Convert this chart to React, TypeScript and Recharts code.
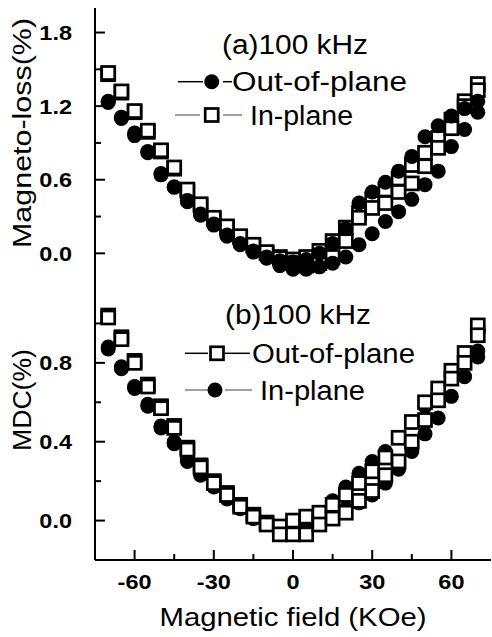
import React from "react";
import { ScatterChart, Scatter, XAxis, YAxis, Legend } from "recharts";

const FONT = "'Liberation Sans', Arial, Helvetica, sans-serif";

// field sweep, KOe
const field = [-70, -65, -60, -55, -50, -45, -40, -35, -30, -25, -20, -15, -10, -5, 0, 5, 10, 15, 20, 25, 30, 35, 40, 45, 50, 55, 60, 65, 70];

// (a) magneto-loss, %
const lossOutA = [1.24, 1.11, 0.98, 0.83, 0.65, 0.54, 0.43, 0.32, 0.24, 0.15, 0.08, 0.02, -0.04, -0.1, -0.13, -0.13, -0.11, -0.08, -0.03, 0.07, 0.16, 0.26, 0.34, 0.44, 0.56, 0.67, 0.87, 1.01, 1.15];
const lossOutB = [1.23, 1.1, 0.96, 0.82, 0.64, 0.54, 0.42, 0.31, 0.23, 0.14, 0.07, 0.01, -0.03, -0.06, -0.07, -0.05, 0.0, 0.08, 0.2, 0.41, 0.5, 0.58, 0.67, 0.79, 0.95, 1.04, 1.12, 1.18, 1.24];
const lossInA = [1.47, 1.32, 1.16, 1.0, 0.84, 0.7, 0.52, 0.4, 0.29, 0.22, 0.14, 0.07, 0.01, -0.04, -0.08, -0.1, -0.08, -0.03, 0.1, 0.29, 0.37, 0.41, 0.5, 0.57, 0.71, 0.86, 1.02, 1.2, 1.33];
const lossInB = [1.46, 1.31, 1.15, 0.99, 0.83, 0.69, 0.51, 0.39, 0.28, 0.21, 0.13, 0.06, 0.0, -0.03, -0.05, -0.03, 0.02, 0.1, 0.21, 0.33, 0.44, 0.52, 0.61, 0.72, 0.82, 0.94, 1.09, 1.24, 1.38];

// (b) MDC, %
const mdcOutA = [1.04, 0.93, 0.81, 0.69, 0.58, 0.48, 0.37, 0.28, 0.2, 0.14, 0.08, 0.03, -0.01, -0.03, 0.0, 0.02, 0.04, 0.08, 0.13, 0.19, 0.25, 0.32, 0.42, 0.5, 0.6, 0.67, 0.76, 0.85, 0.99];
const mdcOutB = [1.03, 0.92, 0.8, 0.68, 0.57, 0.47, 0.36, 0.27, 0.19, 0.13, 0.07, 0.02, -0.02, -0.07, -0.07, -0.07, -0.02, 0.01, 0.04, 0.1, 0.15, 0.23, 0.3, 0.4, 0.51, 0.61, 0.72, 0.8, 0.94];
const mdcInA = [0.88, 0.78, 0.68, 0.59, 0.48, 0.4, 0.31, 0.24, 0.18, 0.12, 0.07, 0.02, -0.02, -0.04, -0.05, -0.04, -0.02, 0.01, 0.06, 0.09, 0.13, 0.19, 0.26, 0.35, 0.44, 0.52, 0.63, 0.73, 0.83];
const mdcInB = [0.87, 0.77, 0.67, 0.58, 0.47, 0.39, 0.3, 0.23, 0.17, 0.11, 0.06, 0.01, -0.02, -0.03, -0.02, 0.0, 0.04, 0.1, 0.17, 0.24, 0.3, 0.35, 0.42, 0.5, 0.58, 0.66, 0.74, 0.8, 0.86];

const xTicks = [-60, -45, -30, -15, 0, 15, 30, 45, 60];
const xMajor = [-60, -30, 0, 30, 60];
const lossTicks = [0, 0.3, 0.6, 0.9, 1.2, 1.5, 1.8];
const lossMajor = [0, 0.6, 1.2, 1.8];
const mdcTicks = [0, 0.2, 0.4, 0.6, 0.8, 1.0];
const mdcMajor = [0, 0.4, 0.8];

const pts = (ys: number[]) => field.map((x, i) => ({ x, y: ys[i] }));

const Dot = (p: any) => (p.cx == null ? null : <circle cx={p.cx} cy={p.cy} r={7.5} fill="#000" />);
const Box = (p: any) =>
  p.cx == null ? null : (
    <rect x={p.cx - 6.5} y={p.cy - 6.5} width={13} height={13} fill="#fff" stroke="#000" strokeWidth={2.7} />
  );

function BottomTick(props: any) {
  const { x, y, payload, majors, labels } = props;
  const major = majors.includes(payload.value);
  return (
    <g>
      <line x1={x} x2={x} y1={y} y2={y - (major ? 10 : 6)} stroke="#000" strokeWidth={2} />
      {labels && major ? (
        <text transform={`translate(${x} ${y + 29}) scale(1.12 1)`} textAnchor="middle"
          fontFamily={FONT} fontWeight="bold" fontSize={21} fill="#000">{payload.value}</text>
      ) : null}
    </g>
  );
}

function TopTick(props: any) {
  const { x, y, payload, majors } = props;
  const major = majors.includes(payload.value);
  return <line x1={x} x2={x} y1={y} y2={y + (major ? 10 : 6)} stroke="#000" strokeWidth={2} />;
}

function LeftTick(props: any) {
  const { x, y, payload, majors } = props;
  const major = majors.includes(payload.value);
  return (
    <g>
      <line x1={x} x2={x + (major ? 10 : 6)} y1={y} y2={y} stroke="#000" strokeWidth={2} />
      {major ? (
        <text transform={`translate(${x - 23} ${y + 7.5}) scale(1.12 1)`} textAnchor="end"
          fontFamily={FONT} fontWeight="bold" fontSize={21} fill="#000">{payload.value.toFixed(1)}</text>
      ) : null}
    </g>
  );
}

function RightTick(props: any) {
  const { x, y, payload, majors } = props;
  const major = majors.includes(payload.value);
  return <line x1={x} x2={x - (major ? 10 : 6)} y1={y} y2={y} stroke="#000" strokeWidth={2} />;
}

function VTitle({ text, cx, base, len }: { text: string; cx: number; base: number; len: number }) {
  return (
    <text transform={`translate(${base} ${cx}) rotate(-90)`} textAnchor="middle" fontFamily={FONT}
      fontSize={25} fill="#000" textLength={len} lengthAdjust="spacingAndGlyphs">{text}</text>
  );
}

type KeyRow = { shape: "dot" | "box"; line: string; y: number; mx: number; l1: number[]; l2: number[]; tx: number; text: string; len: number };

function PanelKey({ title, tx, ty, tlen, rows, h }: { title: string; tx: number; ty: number; tlen: number; rows: KeyRow[]; h: number }) {
  return (
    <svg width={492} height={h} style={{ position: "absolute", left: 0, top: 0, overflow: "visible" }}>
      <text x={tx} y={ty} fontFamily={FONT} fontSize={27} fill="#000" textLength={tlen} lengthAdjust="spacingAndGlyphs">{title}</text>
      {rows.map((r, i) => (
        <g key={i}>
          <line x1={r.l1[0]} x2={r.l1[1]} y1={r.y} y2={r.y} stroke={r.line} strokeWidth={1.5} />
          <line x1={r.l2[0]} x2={r.l2[1]} y1={r.y} y2={r.y} stroke={r.line} strokeWidth={1.5} />
          {r.shape === "dot" ? <Dot cx={r.mx} cy={r.y} /> : <Box cx={r.mx} cy={r.y} />}
          <text x={r.tx} y={r.y + 9.6} fontFamily={FONT} fontSize={27} fill="#000" textLength={r.len} lengthAdjust="spacingAndGlyphs">{r.text}</text>
        </g>
      ))}
    </svg>
  );
}

const axisLine = { stroke: "#000", strokeWidth: 2 };
const keyWrap = { left: 0, top: 0, width: 0, height: 0 };

export default function App() {
  return (
    <div style={{ position: "absolute", left: 0, top: 0, width: 492, height: 637, background: "#fff" }}>
      <div style={{ position: "absolute", left: 0, top: 0 }}>
        <ScatterChart width={492} height={284} margin={{ top: 8, right: 1, bottom: 0, left: 0 }}>
          <XAxis xAxisId="b" type="number" dataKey="x" domain={[-75, 75]} ticks={xTicks} interval={0} height={0}
            axisLine={axisLine} tickLine={false} tickSize={0} tickMargin={0} tick={<BottomTick majors={xMajor} labels={false} />} />
          <XAxis xAxisId="t" orientation="top" type="number" domain={[-75, 75]} ticks={xTicks} interval={0} height={0}
            axisLine={axisLine} tickLine={false} tickSize={0} tickMargin={0} tick={<TopTick majors={xMajor} />} />
          <YAxis yAxisId="l" type="number" dataKey="y" domain={[-0.25, 2.0]} ticks={lossTicks} interval={0} width={95}
            axisLine={axisLine} tickLine={false} tickSize={0} tickMargin={0} tick={<LeftTick majors={lossMajor} />}
            label={{ content: () => <VTitle text="Magneto-loss(%)" cx={133} base={31} len={230} /> }} />
          <YAxis yAxisId="r" orientation="right" type="number" domain={[-0.25, 2.0]} ticks={lossTicks} interval={0} width={0}
            axisLine={axisLine} tickLine={false} tickSize={0} tickMargin={0} tick={<RightTick majors={lossMajor} />} />
          <Scatter xAxisId="b" yAxisId="l" name="In-plane up" data={pts(lossInB)} shape={Box} isAnimationActive={false} />
          <Scatter xAxisId="b" yAxisId="l" name="In-plane down" data={pts(lossInA)} shape={Box} isAnimationActive={false} />
          <Scatter xAxisId="b" yAxisId="l" name="Out-of-plane up" data={pts(lossOutB)} shape={Dot} isAnimationActive={false} />
          <Scatter xAxisId="b" yAxisId="l" name="Out-of-plane down" data={pts(lossOutA)} shape={Dot} isAnimationActive={false} />
          <Legend wrapperStyle={keyWrap} content={() => (
            <PanelKey title="(a)100 kHz" tx={222} ty={54} tlen={146} h={284} rows={[
              { shape: "dot", line: "#000", y: 81.7, mx: 211.7, l1: [178, 203], l2: [223, 232], tx: 232, text: "Out-of-plane", len: 175 },
              { shape: "box", line: "#808080", y: 115, mx: 211.7, l1: [175, 200], l2: [223, 242], tx: 250, text: "In-plane", len: 103 },
            ]} />
          )} />
        </ScatterChart>
      </div>
      <div style={{ position: "absolute", left: 0, top: 284 }}>
        <ScatterChart width={492} height={353} margin={{ top: 0, right: 1, bottom: 0, left: 0 }}>
          <XAxis xAxisId="b" type="number" dataKey="x" domain={[-75, 75]} ticks={xTicks} interval={0} height={77}
            axisLine={axisLine} tickLine={false} tickSize={0} tickMargin={0} tick={<BottomTick majors={xMajor} labels />}
            label={{ content: () => (
              <text x={293} y={342} textAnchor="middle" fontFamily={FONT} fontSize={25} fill="#000"
                textLength={267} lengthAdjust="spacingAndGlyphs">Magnetic field (KOe)</text>
            ) }} />
          <XAxis xAxisId="t" orientation="top" type="number" domain={[-75, 75]} ticks={xTicks} interval={0} height={0}
            axisLine={axisLine} tickLine={false} tickSize={0} tickMargin={0} tick={<TopTick majors={xMajor} />} />
          <YAxis yAxisId="l" type="number" dataKey="y" domain={[-0.2, 1.2]} ticks={mdcTicks} interval={0} width={95}
            axisLine={axisLine} tickLine={false} tickSize={0} tickMargin={0} tick={<LeftTick majors={mdcMajor} />}
            label={{ content: () => <VTitle text="MDC(%)" cx={116} base={31} len={102} /> }} />
          <YAxis yAxisId="r" orientation="right" type="number" domain={[-0.2, 1.2]} ticks={mdcTicks} interval={0} width={0}
            axisLine={axisLine} tickLine={false} tickSize={0} tickMargin={0} tick={<RightTick majors={mdcMajor} />} />
          <Scatter xAxisId="b" yAxisId="l" name="In-plane up" data={pts(mdcInB)} shape={Dot} isAnimationActive={false} />
          <Scatter xAxisId="b" yAxisId="l" name="In-plane down" data={pts(mdcInA)} shape={Dot} isAnimationActive={false} />
          <Scatter xAxisId="b" yAxisId="l" name="Out-of-plane up" data={pts(mdcOutA)} shape={Box} isAnimationActive={false} />
          <Scatter xAxisId="b" yAxisId="l" name="Out-of-plane down" data={pts(mdcOutB)} shape={Box} isAnimationActive={false} />
          <Legend wrapperStyle={keyWrap} content={() => (
            <PanelKey title="(b)100 kHz" tx={225} ty={40} tlen={146} h={353} rows={[
              { shape: "box", line: "#000", y: 69.3, mx: 217, l1: [185, 208], l2: [225, 250], tx: 252, text: "Out-of-plane", len: 163 },
              { shape: "dot", line: "#808080", y: 106, mx: 215, l1: [185, 208], l2: [225, 252], tx: 260, text: "In-plane", len: 105 },
            ]} />
          )} />
        </ScatterChart>
      </div>
    </div>
  );
}
